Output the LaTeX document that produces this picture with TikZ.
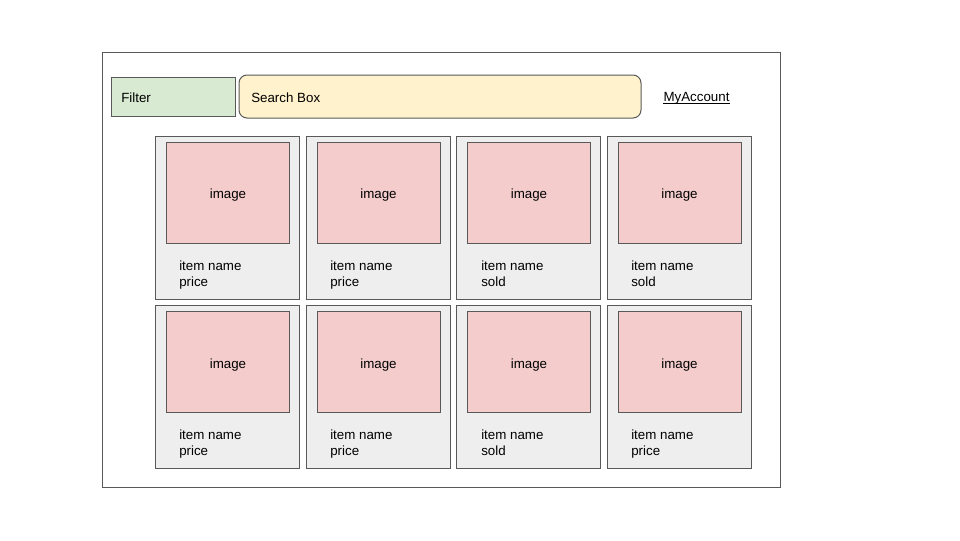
\documentclass[tikz,border=0pt]{standalone}
\usepackage{fontspec}
\setmainfont{Liberation Sans}
\definecolor{strokegray}{HTML}{595959}
\definecolor{cardfill}{HTML}{EEEEEE}
\definecolor{imgfill}{HTML}{F4CCCC}
\definecolor{filterfill}{HTML}{D9EAD3}
\definecolor{searchfill}{HTML}{FFF2CC}
\begin{document}
\begin{tikzpicture}[x=0.75pt,y=-0.75pt,
  every node/.style={font=\fontsize{10pt}{12pt}\selectfont, text=black},
  frame/.style={draw=strokegray, line width=0.75pt, fill=white, minimum width=508.5pt, minimum height=326.25pt, inner sep=0pt},
  card/.style={draw=strokegray, line width=0.75pt, fill=cardfill, minimum width=108pt, minimum height=122.25pt, inner sep=0pt},
  imgbox/.style={draw=strokegray, line width=0.75pt, fill=imgfill, minimum width=92.25pt, minimum height=75.75pt, inner sep=0pt, text height=9.4pt, text depth=0pt},
  filterbox/.style={draw=strokegray, line width=0.75pt, fill=filterfill, minimum width=93pt, minimum height=29.25pt, inner sep=0pt},
  searchbox/.style={draw=strokegray, line width=0.75pt, fill=searchfill, rounded corners=6pt, minimum width=301.5pt, minimum height=32.25pt, inner sep=0pt},
  info/.style={align=left, anchor=west, inner sep=0pt},
  plain/.style={anchor=west, inner sep=0pt},
  uline/.style={draw=black, line width=0.7pt}
]
\useasboundingbox (0,0) rectangle (960,540);
\node[frame] (outer) at (441,269.5) {};
\node[filterbox] (filter) at (173,96.5) {};
\node[plain] (filtertxt) at (121,98) {Filter};
\node[searchbox] (search) at (440,96.5) {};
\node[plain] (searchtxt) at (251,98) {Search Box};
\node[inner sep=0pt, anchor=base] (account) at (696.5,101.5) {MyAccount};
\draw[uline] ([yshift=-1.3pt]account.base west) -- ([yshift=-1.3pt]account.base east);
% row 1
\node[card] (c1) at (227.5,217.5) {};
\node[card] (c2) at (378,217.5) {};
\node[card] (c3) at (528.5,217.5) {};
\node[card] (c4) at (679,217.5) {};
\node[imgbox] (i1) at (228,192.5) {image};
\node[imgbox] (i2) at (378.5,192.5) {image};
\node[imgbox] (i3) at (529,192.5) {image};
\node[imgbox] (i4) at (679.5,192.5) {image};
\node[info] (t1) at (179,276.5) {item name\\price\strut};
\node[info] (t2) at (330,276.5) {item name\\price\strut};
\node[info] (t3) at (481,276.5) {item name\\sold\strut};
\node[info] (t4) at (631,276.5) {item name\\sold\strut};
% row 2
\node[card] (c5) at (227.5,387) {};
\node[card] (c6) at (378,387) {};
\node[card] (c7) at (528.5,387) {};
\node[card] (c8) at (679,387) {};
\node[imgbox] (i5) at (228,362) {image};
\node[imgbox] (i6) at (378.5,362) {image};
\node[imgbox] (i7) at (529,362) {image};
\node[imgbox] (i8) at (679.5,362) {image};
\node[info] (t5) at (179,445.5) {item name\\price\strut};
\node[info] (t6) at (330,445.5) {item name\\price\strut};
\node[info] (t7) at (481,445.5) {item name\\sold\strut};
\node[info] (t8) at (631,445.5) {item name\\price\strut};
\end{tikzpicture}
\end{document}
